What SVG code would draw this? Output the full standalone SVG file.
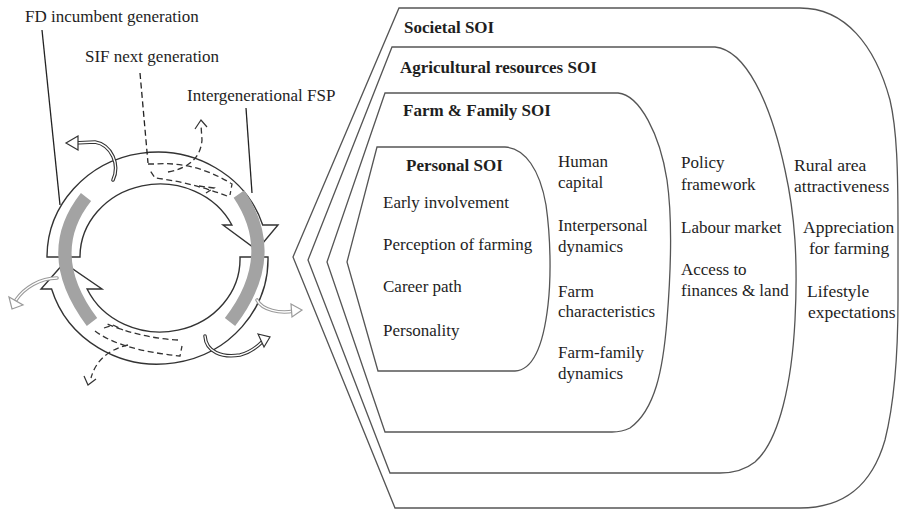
<svg xmlns="http://www.w3.org/2000/svg" width="899" height="510" viewBox="0 0 899 510">
<defs>
<style>
text{font-family:'Liberation Serif','DejaVu Serif','Times New Roman',serif;font-size:17px;fill:#1e1e1e}
.b{font-weight:bold}
.c4{font-size:17.5px}
.soi{fill:none;stroke:#555;stroke-width:1.3}
.ring{fill:#fff;stroke:#333;stroke-width:1.4;stroke-linejoin:miter}
.band{fill:none;stroke:#a3a3a3;stroke-width:13}
.dash{fill:none;stroke:#333;stroke-width:1.3;stroke-dasharray:6 3.5}
.hol{fill:none;stroke:#333;stroke-width:3.6;stroke-linecap:round}
.holg{fill:none;stroke:#9a9a9a;stroke-width:3.6;stroke-linecap:round}
.holw{fill:none;stroke:#fff;stroke-width:1.4;stroke-linecap:round}
.head{fill:#fff;stroke:#333;stroke-width:1.2;stroke-linejoin:miter}
.headg{fill:#fff;stroke:#9a9a9a;stroke-width:1.2}
.lead{fill:none;stroke:#222;stroke-width:1.3}
</style>
</defs>
<rect width="899" height="510" fill="#fff"/>

<g id="societal" font-family="Liberation Serif, serif">
<path class="soi" d="M399,8 L800,8 C845,8 875,45 890,100 C897,130 898,170 898,230 L898,300 C898,350 895,400 885,440 C872,485 845,508 800,508 L395,508 L293,257 Z"/>
<text class="b" x="404" y="33">Societal SOI</text>
<text class="c4" x="794" y="171">Rural area</text>
<text class="c4" x="794" y="192">attractiveness</text>
<text class="c4" x="803" y="233">Appreciation</text>
<text class="c4" x="809" y="254">for farming</text>
<text class="c4" x="807" y="297">Lifestyle</text>
<text class="c4" x="808" y="318">expectations</text>
</g>

<g id="agricultural" font-family="Liberation Serif, serif">
<path class="soi" d="M392,47 L715,47 C745,50 770,100 785,170 C795,215 798,260 795,320 C792,380 780,440 755,462 C745,470 735,473 720,473 L390,473 L308,260 Z"/>
<text class="b" x="400" y="73">Agricultural resources SOI</text>
<text x="681" y="168">Policy</text>
<text x="681" y="190">framework</text>
<text x="681" y="233">Labour market</text>
<text x="681" y="275">Access to</text>
<text x="681" y="296">finances &amp; land</text>
</g>

<g id="farmfamily" font-family="Liberation Serif, serif">
<path class="soi" d="M385,93 L618,93 C640,95 660,135 667,180 C672,215 671,270 667,320 C663,370 655,410 630,428 C624,431 618,432 612,432 L385,432 L327,262 Z"/>
<text class="b" x="403" y="116">Farm &amp; Family SOI</text>
<text x="558" y="167">Human</text>
<text x="558" y="188">capital</text>
<text x="558" y="231">Interpersonal</text>
<text x="558" y="252">dynamics</text>
<text x="558" y="297">Farm</text>
<text x="558" y="317">characteristics</text>
<text x="558" y="358">Farm-family</text>
<text x="558" y="379">dynamics</text>
</g>

<g id="personal" font-family="Liberation Serif, serif">
<path class="soi" d="M377,147 L505,147 C525,148 540,170 546,205 C551,240 551,280 548,305 C544,340 535,370 515,371 L378,371 L347,262 Z"/>
<text class="b" x="406" y="171">Personal SOI</text>
<text x="383" y="208">Early involvement</text>
<text x="383" y="250">Perception of farming</text>
<text x="383" y="292">Career path</text>
<text x="383" y="336">Personality</text>
</g>

<g id="cycle">
<path id="arrow-top" class="ring" d="M47,257 A110.5,105 0 0 1 262.7,225 L278,225 L257,250 L223,225 L231.9,225 A80,73 0 0 0 80,257 Z"/>
<path id="arrow-bottom" class="ring" d="M268,257 A110.5,105 0 0 1 51.6,289 L41,289 L64,263 L102,289 L87.1,289 A80,73 0 0 0 240,257 Z"/>
<path id="fsp-left" class="band" d="M86,197 Q41,254 92,322"/>
<path id="fsp-right" class="band" d="M239,194 Q281,256 230,322"/>
</g>

<g id="sif-top">
<path class="dash" d="M148,164 L155,164 Q195,161 232,184 L230,195 M227,196 Q190,182 155,178 L149,169"/>
<path class="dash" d="M199,186 L214,188 L206,193"/>
<path class="dash" d="M168,172 Q200,166 202,140 L201,125"/>
<path fill="none" stroke="#333" stroke-width="1.2" d="M195,129 L201,120 L207,127"/>
</g>

<g id="sif-bottom">
<path class="dash" d="M95,331 Q120,350 180,356 L182,346 M178,340 Q140,338 105,323"/>
<path class="dash" d="M104,328 L113,325 L123,330"/>
<path class="dash" d="M128,345 Q98,352 91,378"/>
<path fill="none" stroke="#333" stroke-width="1.2" d="M84,376 L88,385 L96,379"/>
</g>

<g id="outflows">
<path class="hol" d="M113,180 C120,165 112,145 95,142 L74,143"/>
<path class="holw" d="M113,180 C120,165 112,145 95,142 L74,143"/>
<path class="head" d="M78,136 L66,143 L78,150 Z"/>
<path class="hol" d="M205,336 C206,352 222,358 240,355 C252,352 258,346 262,342"/>
<path class="holw" d="M205,336 C206,352 222,358 240,355 C252,352 258,346 262,342"/>
<path class="head" d="M258,334 L270,337 L264,347 Z"/>
<path class="holg" d="M57,278 C40,278 24,288 16,300"/>
<path class="holw" d="M57,278 C40,278 24,288 16,300"/>
<path class="headg" d="M9,297 L12,309 L23,305 Z"/>
<path class="holg" d="M257,300 C262,310 280,314 294,311"/>
<path class="holw" d="M257,300 C262,310 280,314 294,311"/>
<path class="headg" d="M291,304 L302,310 L292,317 Z"/>
</g>

<g id="labels" font-family="Liberation Serif, serif">
<text x="25" y="22">FD incumbent generation</text>
<text x="85" y="62">SIF next generation</text>
<text x="187" y="101">Intergenerational FSP</text>
</g>

<g id="connectors">
<path class="lead" d="M42,30 L60,205"/>
<path class="lead" stroke-dasharray="6 3.5" d="M140,73 L148,163"/>
<path class="lead" stroke="#999" d="M246,108 L252,193"/>
</g>
</svg>
